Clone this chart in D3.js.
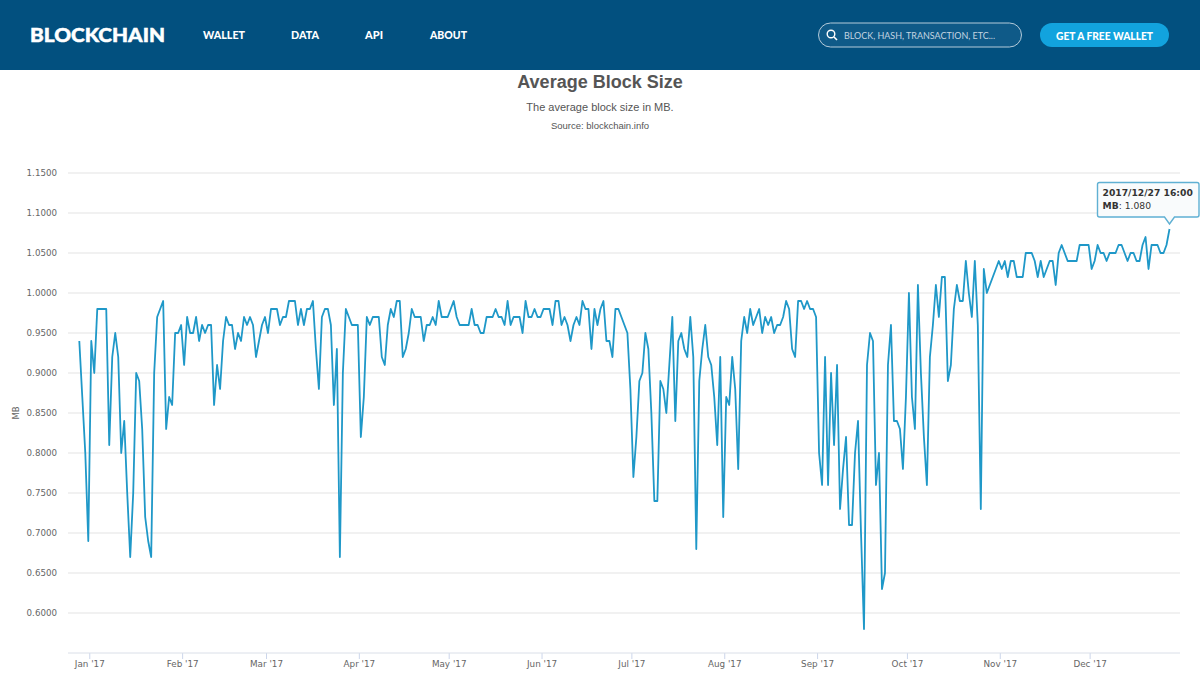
<!DOCTYPE html>
<html><head><meta charset="utf-8">
<script src="https://cdn.jsdelivr.net/npm/d3@7/dist/d3.min.js"></script>
<style>
html,body{margin:0;padding:0;background:#fff;overflow:hidden}
svg{display:block}
</style></head><body><svg id="c" width="1200" height="675"></svg>
<script>
const blockSizeMB = [
.94,.87,.80,.69,.94,.90,.98,.98,.98,.98,.81,.92,.95,.92,.80,.84,.75,.67,.75,.90,
.89,.83,.72,.69,.67,.90,.97,.98,.99,.83,.87,.86,.95,.95,.96,.91,.97,.95,.95,.97,
.94,.96,.95,.96,.96,.86,.91,.88,.94,.97,.96,.96,.93,.95,.94,.97,.96,.97,.96,.92,
.94,.96,.97,.95,.98,.98,.98,.96,.97,.97,.99,.99,.99,.96,.98,.96,.98,.98,.99,.93,
.88,.97,.98,.98,.96,.86,.93,.67,.90,.98,.97,.96,.96,.96,.82,.87,.97,.96,.97,.97,
.97,.92,.91,.96,.98,.97,.99,.99,.92,.93,.95,.98,.97,.97,.97,.94,.96,.96,.97,.96,
.99,.97,.97,.97,.98,.99,.97,.96,.96,.96,.96,.98,.96,.96,.95,.95,.97,.97,.97,.98,
.97,.97,.96,.99,.96,.97,.97,.97,.95,.99,.97,.97,.98,.97,.97,.98,.98,.98,.96,.99,
.99,.96,.97,.96,.94,.96,.97,.96,.99,.98,.98,.93,.98,.96,.98,.99,.94,.94,.92,.98,
.98,.97,.96,.95,.88,.77,.82,.89,.90,.95,.93,.85,.74,.74,.89,.88,.85,.91,.97,.84,
.94,.95,.93,.92,.97,.92,.68,.89,.93,.96,.92,.91,.87,.81,.92,.72,.87,.86,.92,.88,
.78,.94,.97,.95,.98,.96,.97,.98,.95,.97,.96,.97,.95,.96,.96,.97,.99,.98,.93,.92,
.99,.99,.98,.99,.98,.98,.97,.80,.76,.92,.76,.90,.81,.91,.73,.78,.82,.71,.71,.80,
.84,.70,.58,.91,.95,.94,.76,.80,.63,.65,.91,.96,.84,.84,.83,.78,.87,1.00,.87,.83,
1.01,.90,.82,.76,.92,.96,1.01,.97,1.02,1.02,.89,.91,.98,1.01,.99,.99,1.04,1.00,.97,1.04,
.96,.73,1.03,1.00,1.01,1.02,1.03,1.04,1.03,1.04,1.02,1.04,1.04,1.02,1.02,1.02,1.05,1.05,1.05,1.04,
1.02,1.04,1.02,1.03,1.04,1.04,1.01,1.05,1.06,1.05,1.04,1.04,1.04,1.04,1.06,1.06,1.06,1.06,1.03,1.04,
1.06,1.05,1.05,1.04,1.05,1.05,1.05,1.06,1.06,1.05,1.04,1.05,1.05,1.04,1.04,1.06,1.07,1.03,1.06,1.06,
1.06,1.05,1.05,1.06,1.08];
const yTicks = [0.60,0.65,0.70,0.75,0.80,0.85,0.90,0.95,1.00,1.05,1.10,1.15];
const navLabels = ["WALLET","DATA","API","ABOUT"];
const navX = [203,291,365,430];
const navW = [42,28,18,37];
const titleText = "Average Block Size";
const subtitleText = "The average block size in MB.";
const sourceText = "Source: blockchain.info";
const firstDate = new Date(Date.UTC(2016,11,28,16));
const lastDate = new Date(Date.UTC(2017,11,27,16));
const dates = blockSizeMB.map((_,i)=>d3.utcDay.offset(firstDate,i));

const svg = d3.select("#c");
const x = d3.scaleUtc().domain([firstDate,lastDate]).range([79.3,1169.5]);
const y = d3.scaleLinear().domain([0.55,1.15]).range([653,173]);

/* header */
const head = svg.append("g");
head.append("rect").attr("width",1200).attr("height",70).attr("fill","#02507F");
head.append("text").text("BLOCKCHAIN").attr("x",30).attr("y",42)
  .attr("font-family","Lato").attr("font-weight",900).attr("font-size",19.5)
  .attr("textLength",135).attr("lengthAdjust","spacingAndGlyphs").attr("fill","#fff")
  .attr("stroke","#fff").attr("stroke-width",0.5);
head.selectAll("text.nav").data(navLabels).join("text").attr("class","nav")
  .text(d=>d).attr("x",(d,i)=>navX[i]).attr("y",39)
  .attr("textLength",(d,i)=>navW[i]).attr("lengthAdjust","spacingAndGlyphs")
  .attr("font-family","Lato").attr("font-weight",900).attr("font-size",11.5).attr("fill","#fff");
head.append("rect").attr("x",818.5).attr("y",23).attr("width",203).attr("height",24).attr("rx",12)
  .attr("fill","#0f5a88").attr("stroke","#b4cbda").attr("stroke-width",1);
head.append("circle").attr("cx",831).attr("cy",34).attr("r",3.8).attr("fill","none").attr("stroke","#fff").attr("stroke-width",1.4);
head.append("line").attr("x1",834).attr("y1",37).attr("x2",837).attr("y2",40).attr("stroke","#fff").attr("stroke-width",1.6);
head.append("text").text("BLOCK, HASH, TRANSACTION, ETC...").attr("x",844).attr("y",38.5)
  .attr("textLength",151).attr("lengthAdjust","spacingAndGlyphs")
  .attr("font-family","Lato").attr("font-size",9.5).attr("fill","#c3d5e1");
head.append("rect").attr("x",1040).attr("y",23).attr("width",129).attr("height",24).attr("rx",12).attr("fill","#12a3de");
head.append("text").text("GET A FREE WALLET").attr("x",1056).attr("y",39.5)
  .attr("textLength",97).attr("lengthAdjust","spacingAndGlyphs")
  .attr("font-family","Lato").attr("font-weight",900).attr("font-size",10.5).attr("fill","#fff");

/* titles */
svg.append("text").text(titleText).attr("x",600).attr("y",88).attr("text-anchor","middle")
  .attr("font-family","Liberation Sans").attr("font-weight",700).attr("font-size",18).attr("fill","#555");
svg.append("text").text(subtitleText).attr("x",600).attr("y",111).attr("text-anchor","middle")
  .attr("font-family","Liberation Sans").attr("font-size",11).attr("fill","#555");
svg.append("text").text(sourceText).attr("x",600).attr("y",129).attr("text-anchor","middle")
  .attr("font-family","Liberation Sans").attr("font-size",9.5).attr("fill","#555");

/* grid + y axis */
const yAxis = d3.axisLeft(y).tickValues(yTicks).tickFormat(d3.format(".4f")).tickSize(0).tickPadding(0);
const gy = svg.append("g").attr("transform","translate(57,0)").call(yAxis);
gy.select(".domain").remove();
gy.selectAll("text").attr("font-family","DejaVu Sans").attr("font-size",8.7).attr("fill","#666");
svg.append("g").selectAll("line").data(yTicks).join("line")
  .attr("x1",68).attr("x2",1180).attr("y1",d=>y(d)).attr("y2",d=>y(d))
  .attr("stroke","#e3e3e3").attr("stroke-width",1);
svg.append("text").text("MB").attr("transform","translate(19,413) rotate(-90)").attr("text-anchor","middle")
  .attr("font-family","DejaVu Sans").attr("font-size",8.5).attr("fill","#666");

/* x axis */
const xAxis = d3.axisBottom(x).ticks(d3.utcMonth.every(1)).tickFormat(d3.utcFormat("%b '%y")).tickSize(6).tickPadding(2);
const gx = svg.append("g").attr("transform","translate(0,653)").call(xAxis);
gx.select(".domain").remove();
gx.selectAll("line").attr("stroke","#ccd6eb");
gx.selectAll("text").attr("font-family","DejaVu Sans").attr("font-size",8.8).attr("fill","#666");
svg.append("line").attr("x1",68).attr("x2",1180).attr("y1",653).attr("y2",653).attr("stroke","#dadfe8").attr("stroke-width",1);

/* series */
const line = d3.line().x((d,i)=>x(dates[i])).y(d=>y(d));
svg.append("path").datum(blockSizeMB).attr("d",line).attr("fill","none")
  .attr("stroke","#1f98c8").attr("stroke-width",1.8).attr("stroke-linejoin","round");

/* tooltip */
const px = x(lastDate), py = y(blockSizeMB[blockSizeMB.length-1]);
const tip = svg.append("g");
tip.append("path").attr("d",`M1099.5,182.5 H1197 a2,2 0 0 1 2,2 V215 a2,2 0 0 1 -2,2 H${px+5} L${px},${py-5} L${px-5},217 H1099.5 a2,2 0 0 1 -2,-2 V184.5 a2,2 0 0 1 2,-2 Z`)
  .attr("fill","#f9fbfc").attr("stroke","#5fb0d3").attr("stroke-width",1.4);
tip.append("text").text("2017/12/27 16:00").attr("x",1102.5).attr("y",196)
  .attr("font-family","DejaVu Sans").attr("font-weight",700).attr("font-size",9.2).attr("fill","#333");
const t2 = tip.append("text").attr("x",1102.5).attr("y",209).attr("font-family","DejaVu Sans").attr("font-size",9.2).attr("fill","#333");
t2.append("tspan").attr("font-weight",700).text("MB");
t2.append("tspan").text(": "+d3.format(".3f")(blockSizeMB[blockSizeMB.length-1]));
</script></body></html>
